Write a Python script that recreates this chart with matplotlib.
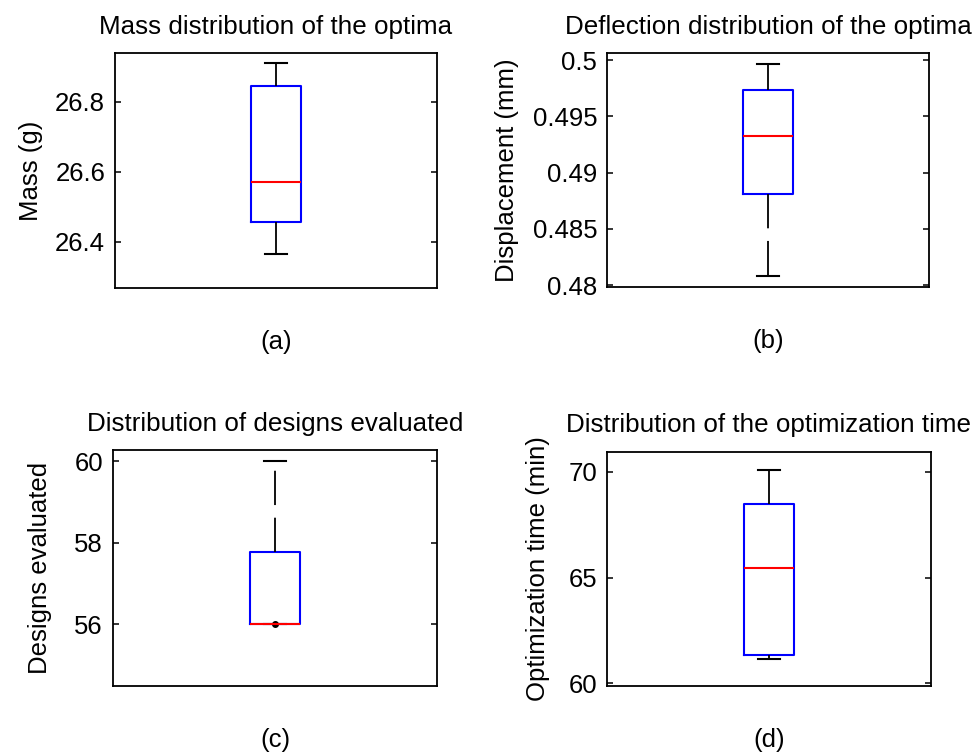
import matplotlib
matplotlib.use("Agg")
import matplotlib.pyplot as plt
from matplotlib.ticker import FuncFormatter

plt.rcParams["font.family"] = ["Liberation Sans", "DejaVu Sans"]
plt.rcParams["font.size"] = 18.5

titles = ["Mass distribution of the optima", "Deflection distribution of the optima",
          "Distribution of designs evaluated", "Distribution of the optimization time"]
ylabels = ["Mass (g)", "Displacement (mm)", "Designs evaluated", "Optimization time (min)"]
letters = ["(a)", "(b)", "(c)", "(d)"]

whislo = [26.365, 0.48083, 56.0, 61.13]
q1 = [26.457, 0.48807, 56.0, 61.34]
med = [26.571, 0.49324, 56.0, 65.47]
q3 = [26.846, 0.49735, 57.76, 68.48]
whishi = [26.91, 0.49967, 60.0, 70.1]
fliers = [[], [], [56.0], []]

ylims = [(26.268, 26.939), (0.4798, 0.5006), (54.47, 60.27), (59.86, 70.96)]
yticks = [[26.4, 26.6, 26.8], [0.48, 0.485, 0.49, 0.495, 0.5], [56, 58, 60], [60, 65, 70]]

rects = [[0.118, 0.619, 0.3306, 0.3108],
         [0.6232, 0.620, 0.3309, 0.3095],
         [0.1157, 0.0922, 0.3333, 0.3122],
         [0.6232, 0.0926, 0.3326, 0.3099]]
ylabelpads = [9, 10, 16, 13]

fig = plt.figure(figsize=(9.74, 7.56), dpi=100)

for i in range(4):
    ax = fig.add_axes(rects[i])
    stats = [{"whislo": whislo[i], "q1": q1[i], "med": med[i], "q3": q3[i],
              "whishi": whishi[i], "fliers": fliers[i]}]
    ax.bxp(stats, positions=[1], widths=0.155, capwidths=0.07,
           boxprops=dict(color="#0000ff", lw=1.5),
           medianprops=dict(color="#ff0000", lw=1.5),
           whiskerprops=dict(color="black", lw=1.3, linestyle=(0, (19, 7))),
           capprops=dict(color="black", lw=1.5),
           flierprops=dict(marker="o", markersize=4, markerfacecolor="black",
                           markeredgecolor="black"))
    ax.set_xlim(0.5, 1.5)
    ax.set_ylim(*ylims[i])
    ax.set_yticks(yticks[i])
    ax.yaxis.set_major_formatter(FuncFormatter(lambda v, p: "%g" % v))
    ax.set_xticks([])
    ax.tick_params(axis="y", direction="in", right=True, length=4, width=1.1, pad=7)
    for s in ax.spines.values():
        s.set_linewidth(1.3)
    ax.set_title(titles[i], pad=14, fontsize=18.7)
    ax.set_ylabel(ylabels[i], labelpad=ylabelpads[i])
    ax.set_xlabel(letters[i], labelpad=30)

fig.savefig("out.png", dpi=100)
